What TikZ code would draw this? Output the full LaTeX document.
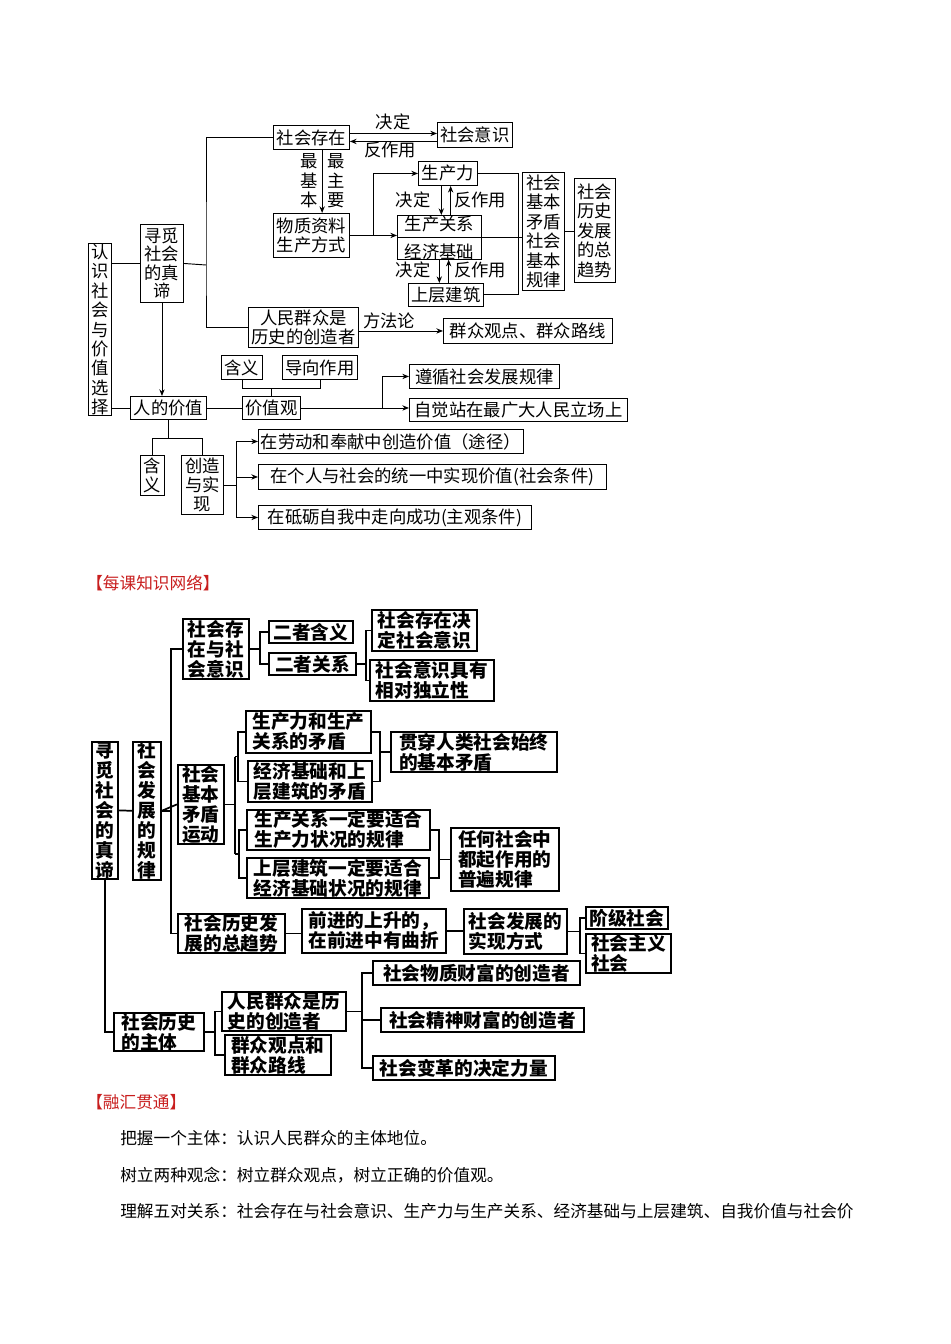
\documentclass[tikz,border=0pt]{standalone}
\usepackage{fontspec}
\setmainfont{Noto Sans CJK SC}
\usetikzlibrary{arrows.meta,calc}
\definecolor{hred}{RGB}{200,30,30}
\newcommand\tfnt{\fontsize{13}{14.6}\selectfont}
\newcommand\bfnt{\fontsize{14}{15}\selectfont\bfseries}
\newcommand\bx[7][]{\node[box,#1,anchor=north west,minimum width={(#5-#3)*0.75pt},minimum height={(#6-#4)*0.75pt}] (#2) at (#3,#4) {#7};}
\tikzset{box/.style={draw,inner sep=0pt,align=center,font=\tfnt,line width=0.7pt},
 bb/.style={line width=1.3pt,font=\bfnt,align=left},
 arr/.style={-{Stealth[length=5pt,width=4pt]}},
 lbl/.style={font=\tfnt,inner sep=0pt},
 ln/.style={line width=0.7pt},
 bl/.style={line width=1.3pt}}
\begin{document}
\begin{tikzpicture}[x=0.75pt,y=-0.75pt]
\useasboundingbox (0,0) rectangle (950,1344);
% ---------- top ----------
\bx{rz}{88}{243}{111}{415}{认\\识\\社\\会\\与\\价\\值\\选\\择}
\bx[font=\fontsize{13}{13.8}\selectfont]{qm}{140}{224}{183}{302}{寻觅\\社会\\的真\\谛}
\bx{shcz}{273}{125}{349}{149}{社会存在}
\bx{shyz}{437}{122}{512}{147}{社会意识}
\node[lbl] (l1) at (393,122) {决定};
\node[lbl] (l2) at (390,150) {反作用};
\node[lbl,align=center] (l3) at (309,181) {最\\基\\本};
\node[lbl,align=center] (l4) at (336,181) {最\\主\\要};
\bx{wz}{273}{213}{349}{257}{物质资料\\生产方式}
\bx{scl}{418}{161}{477}{185}{生产力}
\bx[font=\fontsize{13}{21}\selectfont]{scgx}{397}{215}{481}{257}{生产关系\\经济基础}
\draw[ln] (scgx.west) -- (scgx.east);
\bx{scjz}{408}{283}{483}{306}{上层建筑}
\node[lbl] (l5) at (413,200) {决定};
\node[lbl] (l6) at (480,200) {反作用};
\node[lbl] (l7) at (413,270) {决定};
\node[lbl] (l8) at (480,270) {反作用};
\bx{jbmd}{522}{172}{564}{290}{社会\\基本\\矛盾\\社会\\基本\\规律}
\bx{qs}{574}{178}{615}{282}{社会\\历史\\发展\\的总\\趋势}
\bx{rmqz}{248}{307}{358}{347}{人民群众是\\历史的创造者}
\node[lbl] (l9) at (389,321) {方法论};
\bx{qzgd}{443}{318}{612}{343}{群众观点、群众路线}
\bx{rjz}{130}{396}{206}{419}{人的价值}
\bx{jzg}{242}{396}{300}{419}{价值观}
\bx{hy1}{221}{355}{262}{379}{含义}
\bx{dx}{282}{355}{357}{379}{导向作用}
\bx{zx}{409}{364}{559}{388}{遵循社会发展规律}
\bx{zj}{409}{398}{627}{421}{自觉站在最广大人民立场上}
\bx{hy2}{140}{455}{164}{495}{含\\义}
\bx{cz}{181}{455}{223}{514}{创造\\与实\\现}
\bx{b1}{258}{429}{523}{453}{在劳动和奉献中创造价值（途径）}
\bx{b2}{258}{464}{606}{489}{在个人与社会的统一中实现价值(社会条件)}
\bx{b3}{258}{505}{531}{529}{在砥砺自我中走向成功(主观条件)}
% top connectors
\draw[ln] (rz.east |- qm.west) -- (qm.west);
\coordinate (c1) at (206,265);
\draw[ln] (qm.east) -- (c1);
\draw[ln] (shcz.west) -| (c1) |- (rmqz.west);
\draw[ln,arr] ([yshift=3pt]shcz.east) -- ([yshift=3pt]shcz.east -| shyz.west);
\draw[ln,arr] ([yshift=-3pt]shcz.east -| shyz.west) -- ([yshift=-3pt]shcz.east);
\draw[ln,arr] ([xshift=8pt]shcz.south) -- ([xshift=8pt]wz.north);
\draw[ln,arr] (wz.east) -- ++(24,0) |- (scl.west);
\draw[ln,arr] (wz.east) -- (wz.east -| scgx.west);
\draw[ln,arr] ([xshift=-5pt]scl.south) -- ([xshift=-5pt]scl.south |- scgx.north);
\draw[ln,arr] ([xshift=2pt]scl.south |- scgx.north) -- ([xshift=2pt]scl.south);
\draw[ln,arr] ([xshift=-5pt]scjz.north |- scgx.south) -- ([xshift=-5pt]scjz.north);
\draw[ln,arr] ([xshift=2pt]scjz.north) -- ([xshift=2pt]scjz.north |- scgx.south);
\draw[ln] (scl.east) -- ++(41,0) |- (scjz.east);
\draw[ln] (scgx.east) -- (scgx.east -| jbmd.west);
\draw[ln] (jbmd.east) -- (jbmd.east -| qs.west);
\draw[ln,arr] (rmqz.east |- qzgd.west) -- (qzgd.west);
\draw[ln,arr] (qm.south) -- (qm.south |- rjz.north);
\draw[ln] (rz.east |- rjz.west) -- (rjz.west);
\draw[ln] (rjz.east) -- (jzg.west);
\draw[ln] (hy1.south) -- ++(0,9) -| (dx.south);
\draw[ln] (jzg.north) -- ++(0,-8);
\draw[ln,arr] (jzg.east) -- ++(82,0) |- (zx.west);
\draw[ln,arr] (jzg.east) -- (jzg.east -| zj.west);
\draw[ln] (rjz.south) -- ++(0,19);
\draw[ln] (hy2.north) -- ++(0,-17) -| (cz.north);
\draw[ln,arr] (cz.east) -- ++(13,0) |- (b1.west);
\draw[ln,arr] (cz.east) -- ++(13,0) |- (b2.west);
\draw[ln,arr] (cz.east) -- ++(13,0) |- (b3.west);
% ---------- headings ----------
\node[anchor=west,text=hred,font=\fontsize{12.5}{14}\selectfont,inner sep=0pt] (h1) at (86,583) {【每课知识网络】};
\node[anchor=west,text=hred,font=\fontsize{12.5}{14}\selectfont,inner sep=0pt] (h2) at (86,1102) {【融汇贯通】};
% ---------- bottom ----------
\bx[bb,align=center]{qm2}{91}{741}{117}{866}{寻\\觅\\社\\会\\的\\真\\谛}
\bx[bb,align=center]{fzgl}{132}{741}{160}{866}{社\\会\\发\\展\\的\\规\\律}
\bx[bb]{szy}{182}{618}{248}{678}{社会存\\在与社\\会意识}
\bx[bb]{ehy}{268}{620}{352}{642}{二者含义}
\bx[bb]{egx}{268}{652}{355}{674}{二者关系}
\bx[bb]{jd}{371}{609}{476}{650}{社会存在决\\定社会意识}
\bx[bb]{dl}{369}{659}{493}{700}{社会意识具有\\相对独立性}
\bx[bb]{jbmd2}{177}{764}{223}{843}{社会\\基本\\矛盾\\运动}
\bx[bb]{p1a}{245}{710}{370}{752}{生产力和生产\\关系的矛盾}
\bx[bb]{p1b}{247}{760}{371}{801}{经济基础和上\\层建筑的矛盾}
\bx[bb]{p2a}{246}{809}{429}{849}{生产关系一定要适合\\生产力状况的规律}
\bx[bb]{p2b}{246}{857}{428}{897}{上层建筑一定要适合\\经济基础状况的规律}
\bx[bb]{gc}{390}{731}{556}{771}{贯穿人类社会始终\\的基本矛盾}
\bx[bb]{rh}{450}{827}{558}{890}{任何社会中\\都起作用的\\普遍规律}
\bx[bb]{lsqs}{177}{913}{284}{952}{社会历史发\\展的总趋势}
\bx[bb,align=right]{qj}{301}{908}{445}{952}{前进的上升的，\\在前进中有曲折}
\bx[bb]{sxfs}{463}{908}{566}{953}{社会发展的\\实现方式}
\bx[bb]{jj}{585}{906}{667}{928}{阶级社会}
\bx[bb]{shzy}{585}{933}{670}{972}{社会主义\\社会}
\bx[bb]{zt}{113}{1012}{203}{1050}{社会历史\\的主体}
\bx[bb]{rm2}{221}{991}{345}{1030}{人民群众是历\\史的创造者}
\bx[bb]{gd2}{224}{1034}{330}{1074}{群众观点和\\群众路线}
\bx[bb]{wz1}{372}{960}{579}{984}{社会物质财富的创造者}
\bx[bb]{jz1}{380}{1007}{583}{1031}{社会精神财富的创造者}
\bx[bb]{bg1}{372}{1055}{554}{1079}{社会变革的决定力量}
% bottom connectors
\draw[bl] (qm2.east) -- (fzgl.west);
\draw[bl] (qm2.south) |- (zt.west);
\draw[bl] (fzgl.east) -- ++(9,0) |- (szy.west);
\draw[bl] (fzgl.east) -- ++(9,0) |- (lsqs.west);
\draw[bl] (fzgl.east) -- (jbmd2.west);
\draw[bl] (szy.east) -- ++(10,0) |- (ehy.west);
\draw[bl] (szy.east) -- ++(10,0) |- (egx.west);
\draw[bl] (egx.east) -- ++(9,0) |- (jd.west);
\draw[bl] (egx.east) -- ++(9,0) |- (dl.west);
\draw[bl] (p1a.west) -- ++(-7,0) coordinate (q1) |- (p1b.west);
\draw[bl] (p2a.west) -- ++(-7,0) coordinate (q2) |- (p2b.west);
\coordinate (m1) at ($(q1)!0.5!(q1 |- p1b.west)$);
\coordinate (m2) at ($(q2)!0.5!(q2 |- p2b.west)$);
\draw[bl] (jbmd2.east) -- ++(10,0) coordinate (k);
\draw[bl] (k |- m1) -- (k |- m2);
\draw[bl] (k |- m1) -- (m1);
\draw[bl] (k |- m2) -- (m2);
\draw[bl] (p1a.east) -- ++(8,0) coordinate (r1) |- (p1b.east);
\draw[bl] (r1 |- gc.west) -- (gc.west);
\draw[bl] (p2a.east) -- ++(8,0) coordinate (r2) |- (p2b.east);
\draw[bl] (r2 |- rh.west) -- (rh.west);
\draw[bl] (lsqs.east) -- (lsqs.east -| qj.west);
\draw[bl] (qj.east) -- (qj.east -| sxfs.west);
\draw[bl] (sxfs.east) -- ++(12,0) |- (jj.west);
\draw[bl] (sxfs.east) -- ++(12,0) |- (shzy.west);
\draw[bl] (zt.east) -- ++(10,0) |- (rm2.west);
\draw[bl] (zt.east) -- ++(10,0) |- (gd2.west);
\draw[bl] (rm2.east) -- ++(15,0) |- (wz1.west);
\draw[bl] (rm2.east) -- ++(15,0) |- (jz1.west);
\draw[bl] (rm2.east) -- ++(15,0) |- (bg1.west);
% ---------- paragraph ----------
\tikzset{pt/.style={anchor=west,inner sep=0pt,font=\fontsize{12.5}{14}\selectfont}}
\node[pt] (t1) at (120,1138) {把握一个主体：认识人民群众的主体地位。};
\node[pt] (t2) at (120,1175) {树立两种观念：树立群众观点，树立正确的价值观。};
\node[pt] (t3) at (120,1211) {理解五对关系：社会存在与社会意识、生产力与生产关系、经济基础与上层建筑、自我价值与社会价};
\end{tikzpicture}
\end{document}
